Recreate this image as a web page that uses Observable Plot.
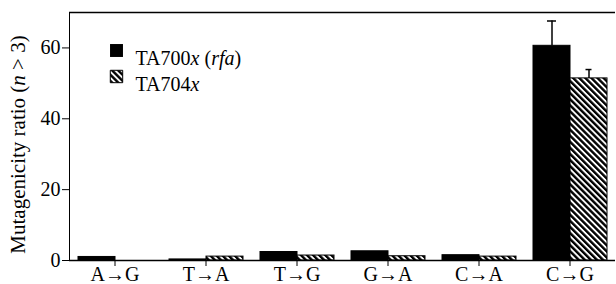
<!DOCTYPE html>
<html><head><meta charset="utf-8">
<script src="https://cdn.jsdelivr.net/npm/d3@7"></script>
<script src="https://cdn.jsdelivr.net/npm/@observablehq/plot@0.6"></script>
<style>body{margin:0;background:#fff} svg, svg text, svg tspan {font-family: "Liberation Serif", serif !important;}</style>
</head><body><div id="chart"></div>
<script>
const categories = ["A→G","T→A","T→G","G→A","C→A","C→G"];
const series = ["TA700x (rfa)","TA704x"];
const ta700 = [1.0, 0.3, 2.4, 2.6, 1.5, 60.6];
const ta704 = [0, 1.1, 1.4, 1.2, 1.1, 51.4];
const ta700Err = [0, 0, 0, 0, 0, 7.0];
const ta704Err = [0, 0, 0, 0, 0, 2.5];
const yDomain = [0, 70];
const yTicks = [0, 20, 40, 60];
const yLabel = "Mutagenicity ratio (n > 3)";

const rows = categories.flatMap((c, i) => [
  {cat: c, series: series[0], value: ta700[i], err: ta700Err[i]},
  {cat: c, series: series[1], value: ta704[i], err: ta704Err[i]}
]);
const errRows = rows.filter(d => d.err > 0).map(d => ({...d, top: d.value + d.err}));
const legend = series.map(s => ({series: s, cat: categories[0]}));

const svg = Plot.plot({
  width: 616, height: 284,
  marginLeft: 67, marginRight: 0, marginTop: 12, marginBottom: 24,
  style: {fontSize: "20px", background: "white", color: "black"},
  fx: {domain: categories, padding: 0, axis: "bottom", tickSize: 6, tickPadding: 0, label: null},
  x: {domain: series, paddingInner: 0, paddingOuter: 0.21, axis: null},
  y: {domain: yDomain, ticks: yTicks, tickSize: 7, tickPadding: 2, line: true, label: yLabel, labelAnchor: "center", labelOffset: 59},
  color: {type: "ordinal", domain: series, range: ["black", "url(#hatch)"]},
  marks: [
    Plot.barY(rows, {fx: "cat", x: "series", y: "value", fill: "series", stroke: "black", strokeWidth: 1, filter: d => d.value > 0}),
    Plot.ruleX(errRows, {fx: "cat", x: "series", y1: "value", y2: "top", strokeWidth: 1.5}),
    Plot.tickY(errRows, {fx: "cat", x: "series", y: "top", strokeWidth: 1.5, insetLeft: 14, insetRight: 14, filter: d => d.series === series[0]}),
    Plot.tickY(errRows, {fx: "cat", x: "series", y: "top", strokeWidth: 1.5, insetLeft: 15.5, insetRight: 15.5, filter: d => d.series === series[1]}),
    Plot.ruleY([yDomain[0]], {strokeWidth: 1.5}),
    Plot.ruleY([yDomain[1]], {strokeWidth: 1.5}),
    Plot.dot([legend[0]], {fx: "cat", frameAnchor: "top-left", dx: 47, dy: 38, symbol: "square", r: 7.3, fill: "series"}),
    Plot.dot([legend[1]], {fx: "cat", frameAnchor: "top-left", dx: 47, dy: 64, symbol: "square", r: 7, fill: "series", stroke: "black", strokeWidth: 1}),
    Plot.text([legend[0]], {fx: "cat", text: "series", frameAnchor: "top-left", dx: 66, dy: 38, textAnchor: "start", fontSize: 20}),
    Plot.text([legend[1]], {fx: "cat", text: "series", frameAnchor: "top-left", dx: 66, dy: 64, textAnchor: "start", fontSize: 20})
  ]
});

const root = d3.select(svg).attr("font-family", "Liberation Serif");
const defs = root.insert("defs", ":first-child");
const pat = defs.append("pattern").attr("id", "hatch").attr("patternUnits", "userSpaceOnUse")
  .attr("width", 4.3).attr("height", 4.3).attr("patternTransform", "rotate(-45)");
pat.append("rect").attr("width", 4.3).attr("height", 4.3).attr("fill", "white");
pat.append("rect").attr("width", 2.4).attr("height", 4.3).attr("fill", "black");

function styled(el, parts) {
  const t = d3.select(el);
  t.text(null);
  parts.forEach(([s, it]) => t.append("tspan").attr("font-style", it ? "italic" : null).text(s));
}
root.selectAll("text").each(function() {
  const s = this.textContent;
  if (s === series[0]) styled(this, [["TA700", 0], ["x", 1], [" (", 0], ["rfa", 1], [")", 0]]);
  else if (s === series[1]) styled(this, [["TA704", 0], ["x", 1]]);
  else if (s.startsWith("Mutagenicity")) {
    styled(this, [["Mutagenicity ratio (", 0], ["n", 1], [" > 3)", 0]]);
    d3.select(this).attr("font-size", 21).attr("dx", -8);
  }
});
document.getElementById("chart").appendChild(svg);
</script>
</body></html>
